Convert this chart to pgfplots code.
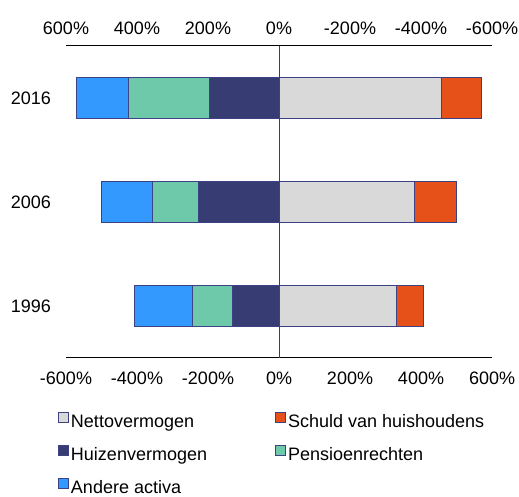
\documentclass[border=0pt]{standalone}
\usepackage{pgfplots}
\pgfplotsset{compat=1.18}
\usepackage{fontspec}
\setmainfont{Liberation Sans}
\definecolor{cNet}{RGB}{217,217,217}
\definecolor{cDebt}{RGB}{229,81,25}
\definecolor{cHouse}{RGB}{55,60,115}
\definecolor{cPens}{RGB}{110,201,170}
\definecolor{cOther}{RGB}{51,153,255}
\definecolor{cEdge}{RGB}{60,66,130}
\pgfplotsset{
  geom/.style={
    scale only axis, width=213pt, height=156pt,
    at={(33pt,69.5pt)}, anchor=south west,
    xmin=-600, xmax=600, ymin=0.5, ymax=3.5,
    major tick length=0pt,
    tick label style={font=\fontsize{9}{11}\selectfont},
    axis line style={-, line width=0.5pt, black},
  },
  sq/.style={legend image code/.code={\draw[##1, line width=0.5pt] (0pt,0pt) rectangle (5pt,5pt);}},
}
\begin{document}
\begin{tikzpicture}
\useasboundingbox (0,0) rectangle (259.5pt,248.5pt);
% negative stack (assets)
\begin{axis}[geom,
  xbar stacked, bar width=20.8pt,
  axis x line*=bottom, axis y line*=left,
  y axis line style={draw=none},
  ytick={1,2,3}, yticklabels={1996,2006,2016},
  yticklabel style={xshift=-4pt},
  xtick={-600,-400,-200,0,200,400,600},
  xticklabels={-600\%,-400\%,-200\%,0\%,200\%,400\%,600\%},
  xticklabel style={yshift=-3.5pt},
  extra x ticks={0}, extra x tick labels={},
  extra x tick style={grid=major, major grid style={draw=black!75, line width=0.5pt}},
]
\addplot[fill=cHouse, draw=cEdge, line width=0.5pt] coordinates {(-130,1) (-227,2) (-197,3)};
\addplot[fill=cPens, draw=cEdge, line width=0.5pt] coordinates {(-114,1) (-128,2) (-227,3)};
\addplot[fill=cOther, draw=cEdge, line width=0.5pt] coordinates {(-164,1) (-144,2) (-146,3)};
\end{axis}
% positive stack (net worth + debt) and legend
\begin{axis}[geom, hide axis,
  xbar stacked, bar width=20.8pt,
  legend columns=2,
  legend cell align=left,
  legend style={draw=none, fill=none, inner sep=0pt, outer sep=0pt,
    at={(axis description cs:-0.0188,-0.166)}, anchor=north west,
    font=\fontsize{9}{11}\selectfont,
    row sep=3.5pt,
    nodes={inner xsep=1pt, inner ysep=2pt, text height=7pt, text depth=2pt},
    /tikz/every even column/.append style={column sep=33pt}},
]
\addplot[fill=cNet, draw=cEdge, line width=0.5pt, sq] coordinates {(332,1) (383,2) (458,3)};
\addlegendentry{Nettovermogen}
\addplot[fill=cDebt, draw=cEdge, line width=0.5pt, sq] coordinates {(76,1) (116,2) (111,3)};
\addlegendentry{Schuld van huishoudens}
\addlegendimage{fill=cHouse, draw=cEdge, sq}
\addlegendentry{Huizenvermogen}
\addlegendimage{fill=cPens, draw=cEdge, sq}
\addlegendentry{Pensioenrechten}
\addlegendimage{fill=cOther, draw=cEdge, sq}
\addlegendentry{Andere activa}
\end{axis}
% top axis (reversed labels)
\begin{axis}[geom,
  x dir=reverse,
  axis x line*=top, axis y line=none,
  xtick={-600,-400,-200,0,200,400,600},
  xticklabels={-600\%,-400\%,-200\%,0\%,200\%,400\%,600\%},
  xticklabel style={yshift=2pt},
]
\end{axis}
\end{tikzpicture}
\end{document}
